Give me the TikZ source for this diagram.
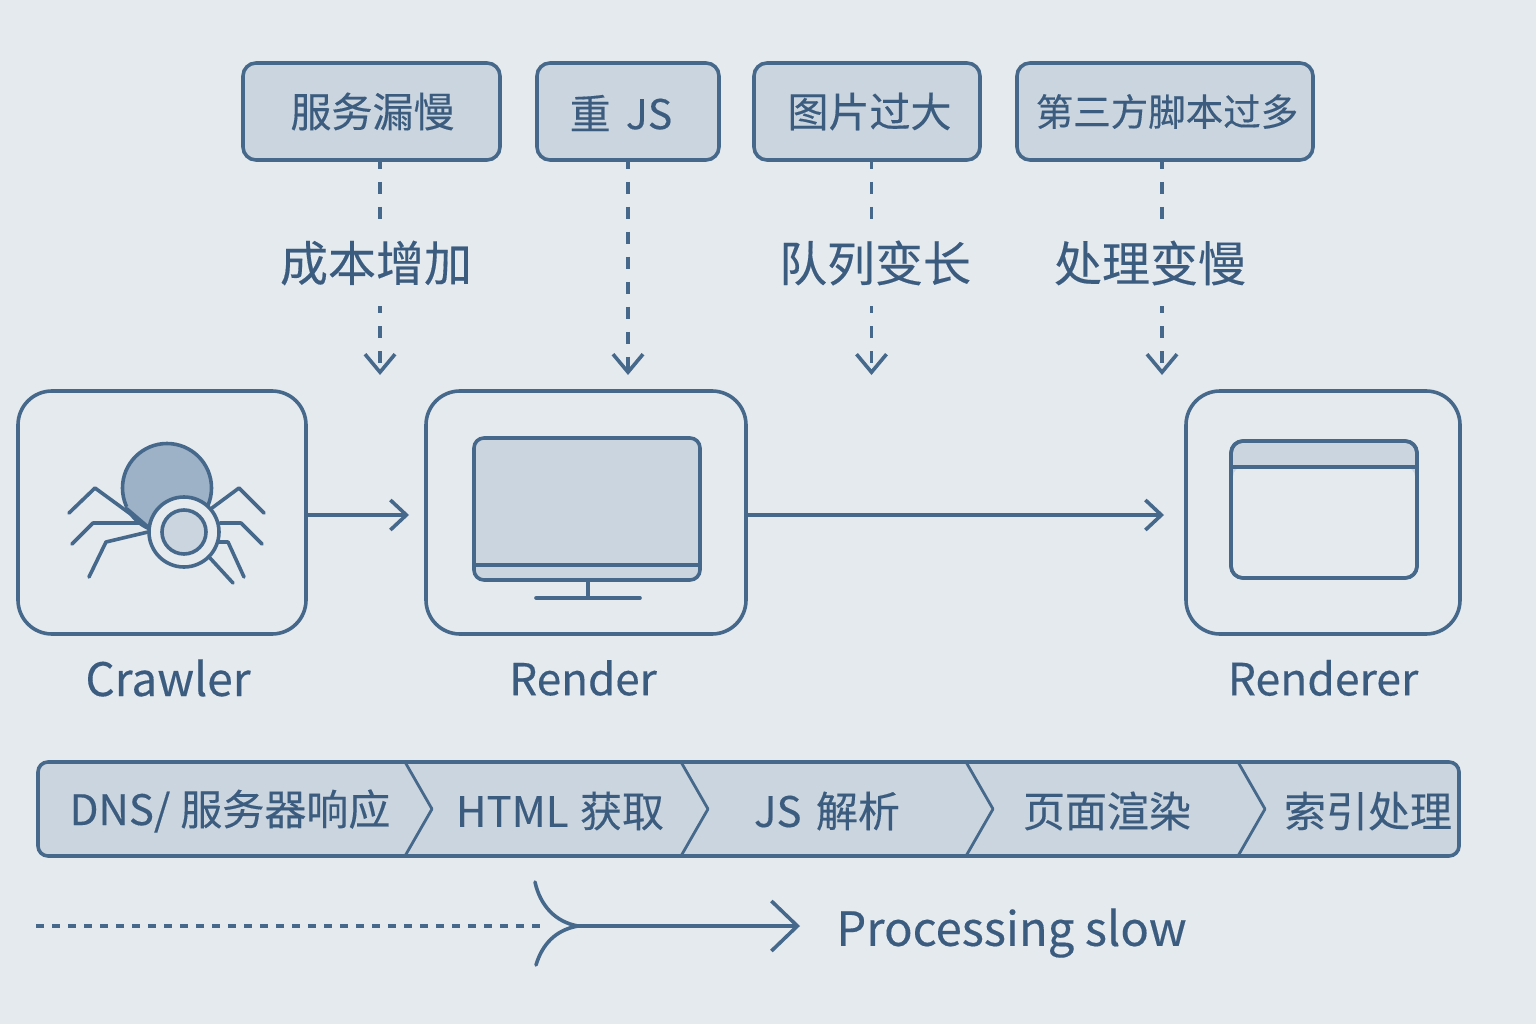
\documentclass[tikz,border=0pt]{standalone}
\usepackage{fontspec}
\setmainfont{Noto Sans CJK SC}[FakeBold=0.3]
\usetikzlibrary{arrows.meta}
\definecolor{pagebg}{HTML}{E5EAEF}
\definecolor{inkblue}{HTML}{46688A}
\definecolor{textblue}{HTML}{3B5C7E}
\definecolor{softfill}{HTML}{CBD5DF}
\definecolor{bodyfill}{HTML}{9DB1C7}

\begin{document}
\begin{tikzpicture}[
    x=1pt, y=-1pt,
    tagbox/.style={rectangle, rounded corners=13pt, draw=inkblue, fill=softfill, line width=3.6pt, minimum height=97pt, text=textblue, font=\fontsize{41}{41}\selectfont, inner sep=0pt},
    effect/.style={text=textblue, fill=pagebg, font=\fontsize{48}{48}\selectfont, minimum height=86pt, inner sep=0pt},
    iconbox/.style={rectangle, rounded corners=34pt, draw=inkblue, line width=3.6pt, minimum height=243pt, inner sep=0pt},
    caption/.style={text=textblue, font=\fontsize{44.5}{44.5}\selectfont, inner sep=0pt},
    stage/.style={text=textblue, font=\fontsize{42}{42}\selectfont, inner sep=0pt},
    dashlink/.style={draw=inkblue, line width=3.6pt, dash pattern=on 12pt off 13pt, dash phase=5pt},
    droptip/.style={-{Straight Barb[length=18pt, width=30pt, line width=3.6pt]}},
    flow/.style={draw=inkblue, line width=3.6pt, -{Straight Barb[length=16pt, width=30pt, line width=3.6pt]}},
    iconline/.style={draw=inkblue, line width=3.6pt, line cap=round, line join=round},
]

\fill[pagebg] (0,0) rectangle (1536,1024);
\useasboundingbox (0,0) rectangle (1536,1024);

% causes along the top
\node[tagbox, minimum width=257pt] (tagserver) at (371.5,111.5) {};
\node[text=textblue, font=\fontsize{41}{41}\selectfont, inner sep=0pt] (tagservertext) at (372.5,111.5) {服务漏慢};
\node[tagbox, minimum width=182pt] (tagjs) at (628,111.5) {};
\node[text=textblue, font=\fontsize{41}{41}\selectfont, inner sep=0pt] (tagjstext) at (621,113) {重 \hspace{6pt}JS};
\node[tagbox, minimum width=226pt] (tagimage) at (867,111.5) {};
\node[text=textblue, font=\fontsize{41}{41}\selectfont, inner sep=0pt] (tagimagetext) at (869.5,111.5) {图片过大};
\node[tagbox, minimum width=296pt] (tagscript) at (1165,111.5) {};
\node[text=textblue, font=\fontsize{37.5}{37.5}\selectfont, inner sep=0pt] (tagscripttext) at (1167,111.5) {第三方脚本过多};

\node[effect] (effcost) at (376,263) {成本增加};
\node[effect] (effqueue) at (875,263) {队列变长};
\node[effect] (effslow) at (1150,263) {处理变慢};

\coordinate (dropcost) at (380,375);
\coordinate (dropjs) at (628,375);
\coordinate (dropqueue) at (871.5,375);
\coordinate (dropslow) at (1162,375);

\draw[dashlink] (tagserver.south -| dropcost) -- (effcost.north -| dropcost);
\draw[dashlink, droptip] (effcost.south -| dropcost) -- (dropcost);
\draw[dashlink, droptip] (tagjs.south) -- (dropjs);
\draw[dashlink] (tagimage.south -| dropqueue) -- (effqueue.north -| dropqueue);
\draw[dashlink, droptip] (effqueue.south -| dropqueue) -- (dropqueue);
\draw[dashlink] (tagscript.south -| dropslow) -- (effslow.north -| dropslow);
\draw[dashlink, droptip] (effslow.south -| dropslow) -- (dropslow);

% the three main blocks
\node[iconbox, minimum width=288pt] (crawler) at (162,512.5) {};
\node[iconbox, minimum width=320pt] (render) at (586,512.5) {};
\node[iconbox, minimum width=274pt] (renderer) at (1323,512.5) {};

\node[caption, font=\fontsize{46}{46}\selectfont] (crawlertext) at (168,678) {Crawler};
\node[caption, font=\fontsize{44}{44}\selectfont] (rendertext) at (583,678) {Render};
\node[caption] (renderertext) at (1323,678) {Renderer};

\coordinate (crawlerout) at (crawler.east |- 0,515);
\coordinate (renderin) at (409,515);
\coordinate (renderout) at (render.east |- 0,515);
\coordinate (rendererin) at (1164,515);
\draw[flow] (crawlerout) -- (renderin);
\draw[flow] (renderout) -- (rendererin);

% spider
\draw[iconline] (69,513) -- (95,488) -- (147,526);
\draw[iconline] (72,544) -- (93,523) -- (140,523);
\draw[iconline] (89,577) -- (106,542) -- (148,532);
\draw[iconline] (264,513) -- (239,488) -- (212,508);
\draw[iconline] (262,544) -- (241,523) -- (220,523);
\draw[iconline] (244,577) -- (228,542) -- (217,542);
\draw[iconline] (233,583) -- (210,558);
\draw[iconline, fill=bodyfill] (167,488) circle (44.5);
\fill[bodyfill] (127,507) -- (148,527) -- (170,520) -- (150,490) -- cycle;
\draw[iconline] (127,509) -- (148,527);
\draw[iconline, fill=pagebg] (184,532) circle (35);
\draw[iconline, fill=softfill] (184,532) circle (22);

% monitor
\draw[iconline, fill=softfill, rounded corners=10pt] (474,438) rectangle (700,580);
\draw[iconline] (474,565) -- (700,565);
\draw[iconline] (588,580) -- (588,597);
\draw[iconline] (536,598) -- (640,598);

% browser window
\draw[iconline, fill=softfill, rounded corners=12pt] (1231,441) rectangle (1417,578);
\fill[pagebg, rounded corners=10pt] (1233,467) rectangle (1415,576);
\draw[iconline] (1231,467) -- (1417,467);
\draw[iconline, rounded corners=12pt] (1231,441) rectangle (1417,578);

% pipeline bar
\node[rectangle, rounded corners=10pt, draw=inkblue, fill=softfill, line width=3.6pt, minimum width=1421pt, minimum height=94pt, inner sep=0pt] (pipeline) at (748.5,809) {};
\foreach \x in {405,681,966,1238}{
  \draw[draw=inkblue, line width=2.8pt, line join=round] (\x,762) -- (\x+27,809) -- (\x,856);
}
\node[stage] (stagedns) at (230,811) {DNS/\hspace{10pt}服务器响应};
\node[stage] (stagehtml) at (560,811) {HTML \hspace{2pt}获取};
\node[stage] (stagejs) at (827,811) {JS \hspace{5pt}解析};
\node[stage] (stagepaint) at (1107,811) {页面渲染};
\node[stage] (stageindex) at (1368,811) {索引处理};

% slow processing arrow
\coordinate (slowstart) at (36,926);
\coordinate (slowjoin) at (578,926);
\coordinate (slowend) at (800,926);
\node[caption, font=\fontsize{47.2}{47.2}\selectfont] (slowtext) at (1011.5,933) {Processing slow};
\draw[draw=inkblue, line width=3.6pt, dash pattern=on 8pt off 8pt] (slowstart) -- (slowjoin -| 541,0);
\draw[draw=inkblue, line width=3.6pt, -{Straight Barb[length=26pt, width=50pt, line width=3.6pt]}] (slowjoin) -- (slowend);
\draw[iconline] (535,882) .. controls (540,905) and (555,922) .. (slowjoin);
\draw[iconline] (536,965) .. controls (542,945) and (555,930) .. (slowjoin);

\end{tikzpicture}
\end{document}
